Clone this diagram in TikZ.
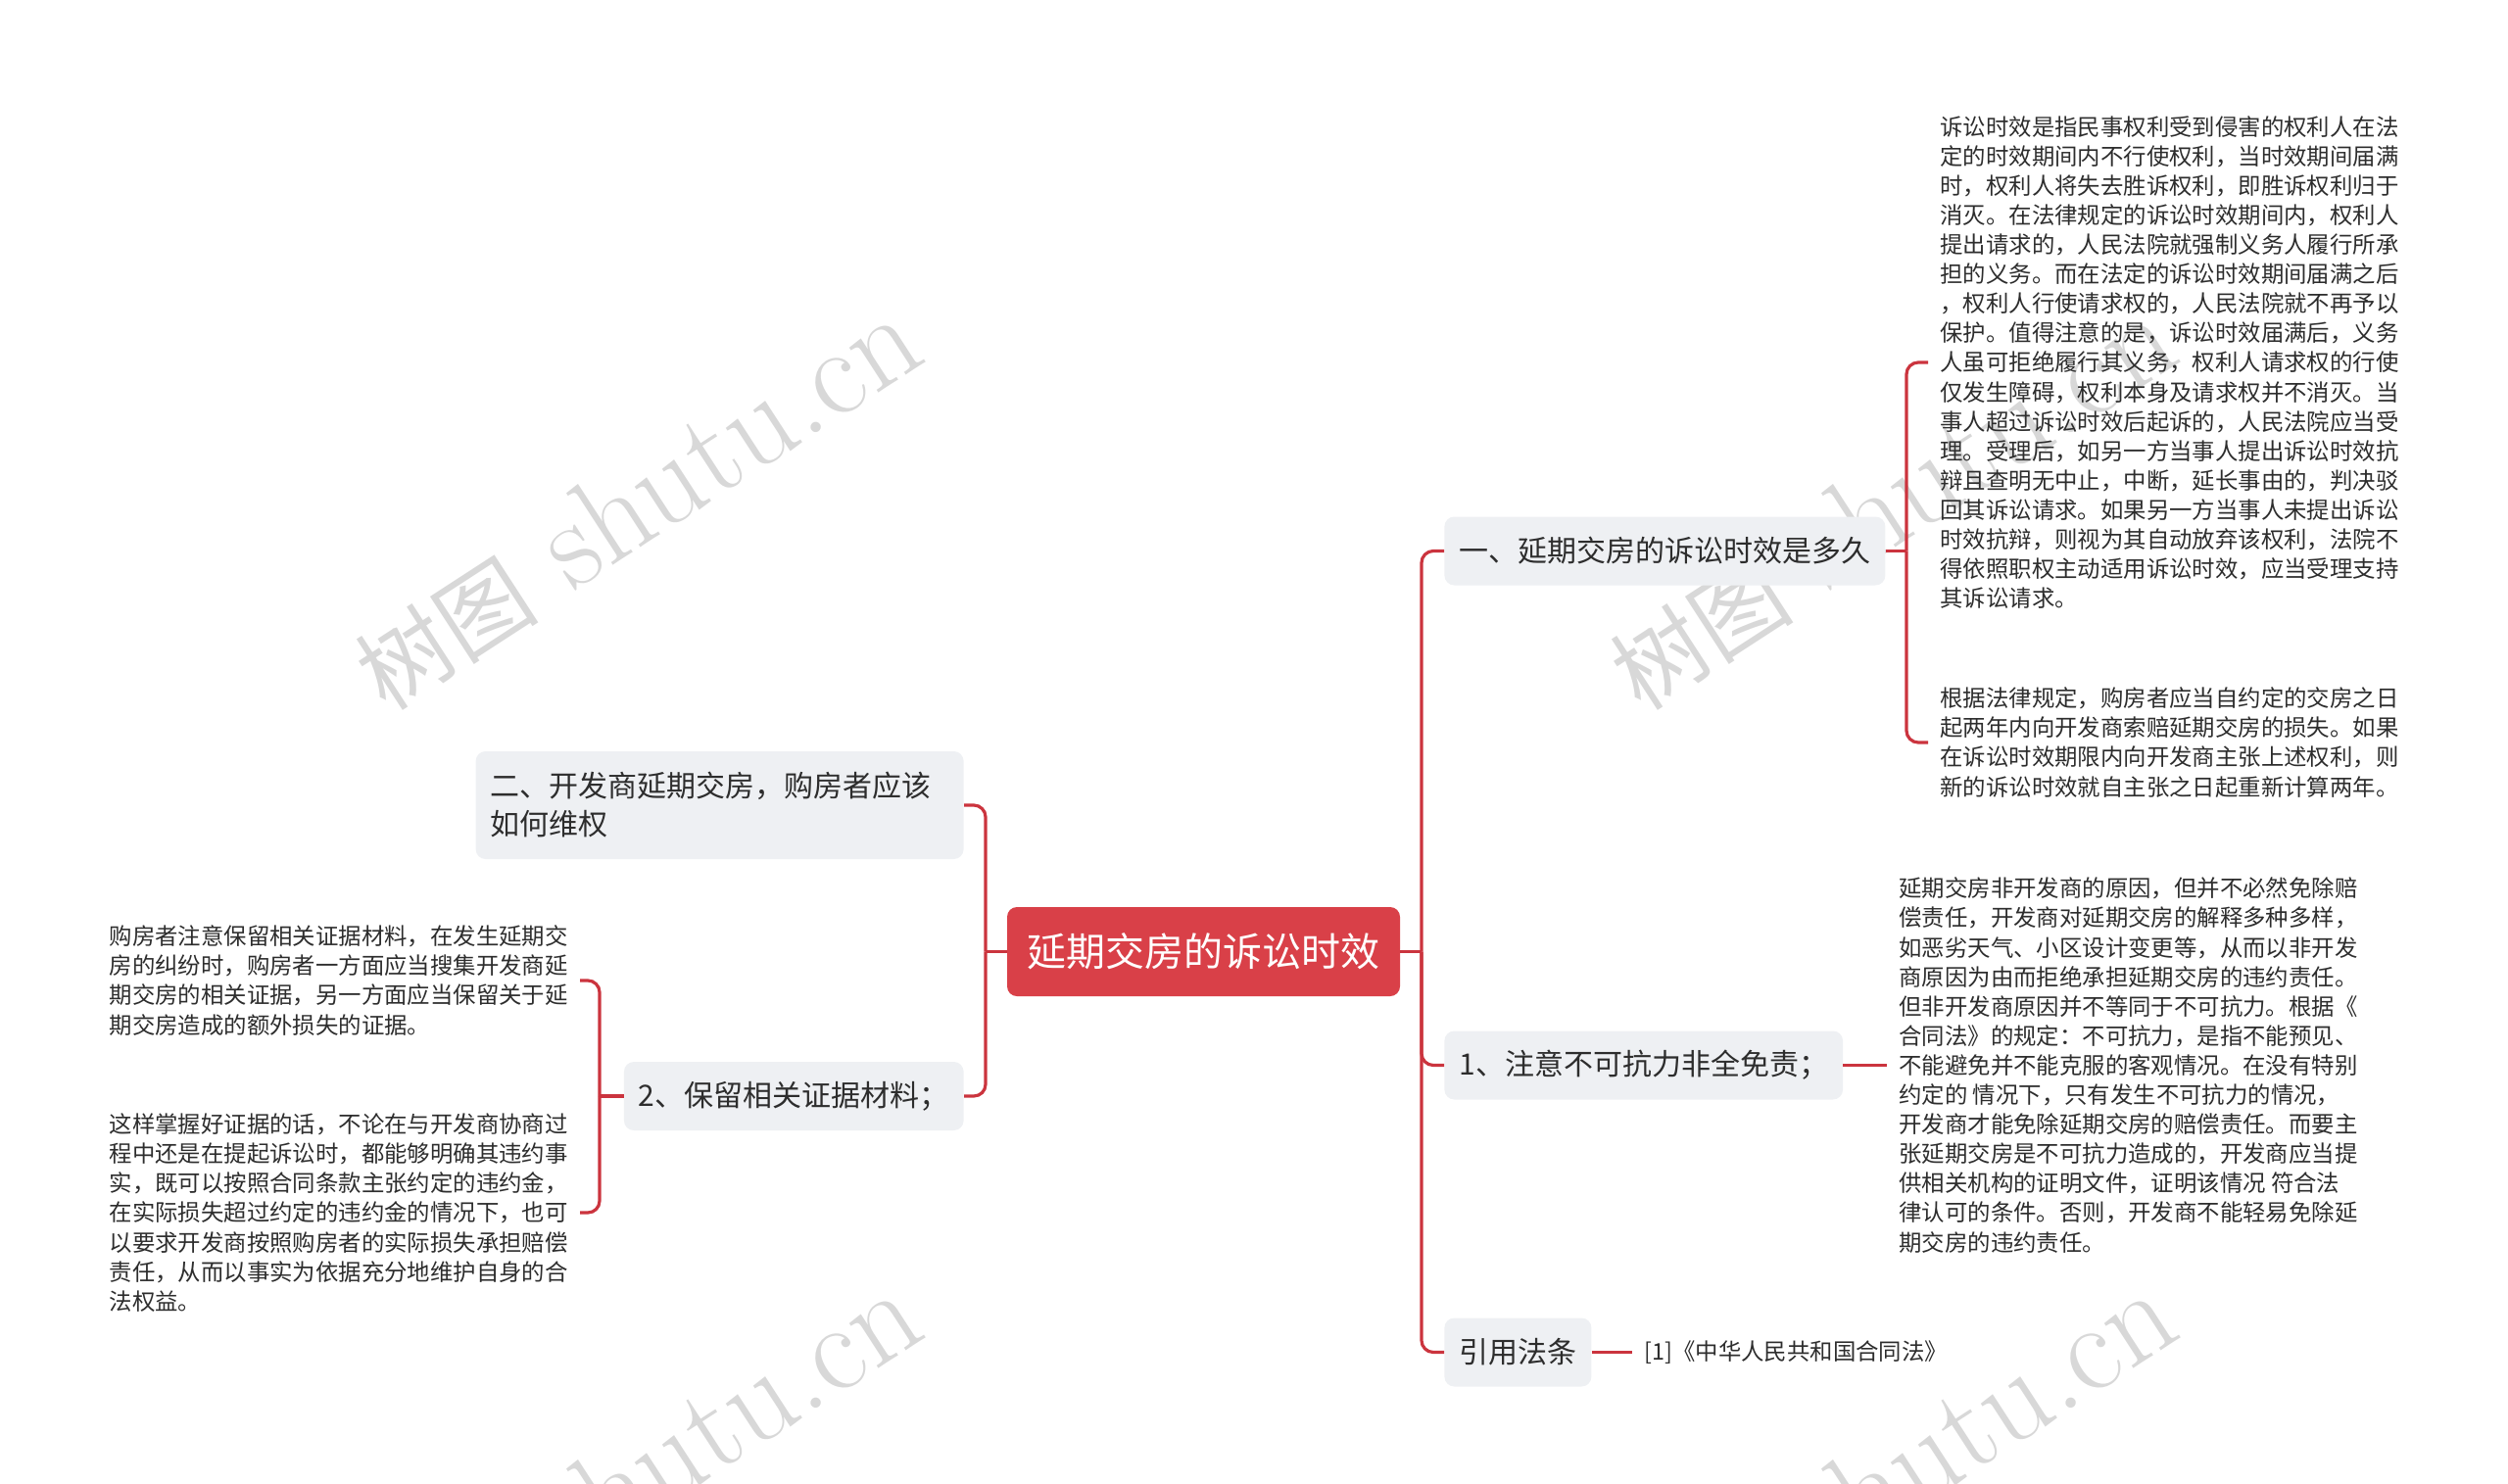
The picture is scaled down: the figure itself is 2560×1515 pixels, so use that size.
\documentclass[tikz,border=0pt]{standalone}
\usepackage{fontspec}
\newfontfamily\cjk{Noto Sans CJK SC}
\usepackage{xcolor}
\definecolor{TopicRed}{RGB}{217,64,72}
\definecolor{LinkRed}{RGB}{203,52,62}
\definecolor{BoxGray}{RGB}{238,240,243}
\definecolor{InkGray}{RGB}{45,45,45}
\definecolor{MarkGray}{RGB}{216,216,216}

\tikzset{
  rootbox/.style={fill=TopicRed, rounded corners=5pt, text=white,
    font=\cjk\fontsize{20}{24}\selectfont,
    minimum width=200.5pt, minimum height=45.5pt},
  topicbox/.style={fill=BoxGray, rounded corners=5pt, text=InkGray,
    font=\cjk\fontsize{15}{19.5}\selectfont,
    inner xsep=7.5pt, minimum height=35pt, align=left},
  leaftext/.style={text=InkGray, font=\cjk\fontsize{11.7}{15.05}\selectfont,
    inner xsep=6pt, inner ysep=0pt, align=left},
  branchline/.style={draw=LinkRed, line width=1.6pt, rounded corners=6pt},
  wmark/.style={text=MarkGray, rotate=33, font=\fontsize{64}{66}\selectfont}
}

\begin{document}
\begin{tikzpicture}[x=0.5pt, y=-0.5pt]
  \useasboundingbox (0,0) rectangle (2560,1515);

  % watermarks
  \begin{scope}
    \clip (0,0) rectangle (2560,1515);
    \foreach \wx in {649,1930}
      \foreach \wy in {514,1510}
        \node[wmark] at (\wx,\wy) {{\cjk\fontsize{47}{50}\selectfont 树图} shutu.cn};
  \end{scope}

  % central topic
  \node[rootbox] (root) at (1228.5,971.5) {延期交房的诉讼时效};

  % right topics
  \node[topicbox, anchor=west] (t1) at (1474,562.5) {一、延期交房的诉讼时效是多久};
  \node[topicbox, anchor=west] (t2) at (1474,1087.5) {1、注意不可抗力非全免责；};
  \node[topicbox, anchor=west] (t3) at (1474,1380.5) {引用法条};

  % left topics
  \node[topicbox, anchor=east, text width=234pt, minimum height=55pt] (t4) at (984,822)
    {二、开发商延期交房，购房者应该\\如何维权};
  \node[topicbox, anchor=east] (t5) at (984,1119) {2、保留相关证据材料；};

  % leaves of t1
  \node[leaftext, anchor=west] (l1) at (1968,370) {%
    诉讼时效是指民事权利受到侵害的权利人在法\\
    定的时效期间内不行使权利，当时效期间届满\\
    时，权利人将失去胜诉权利，即胜诉权利归于\\
    消灭。在法律规定的诉讼时效期间内，权利人\\
    提出请求的，人民法院就强制义务人履行所承\\
    担的义务。而在法定的诉讼时效期间届满之后\\
    ，权利人行使请求权的，人民法院就不再予以\\
    保护。值得注意的是，诉讼时效届满后，义务\\
    人虽可拒绝履行其义务，权利人请求权的行使\\
    仅发生障碍，权利本身及请求权并不消灭。当\\
    事人超过诉讼时效后起诉的，人民法院应当受\\
    理。受理后，如另一方当事人提出诉讼时效抗\\
    辩且查明无中止，中断，延长事由的，判决驳\\
    回其诉讼请求。如果另一方当事人未提出诉讼\\
    时效抗辩，则视为其自动放弃该权利，法院不\\
    得依照职权主动适用诉讼时效，应当受理支持\\
    其诉讼请求。};
  \node[leaftext, anchor=west] (l2) at (1968,758) {%
    根据法律规定，购房者应当自约定的交房之日\\
    起两年内向开发商索赔延期交房的损失。如果\\
    在诉讼时效期限内向开发商主张上述权利，则\\
    新的诉讼时效就自主张之日起重新计算两年。};

  % leaf of t2
  \node[leaftext, anchor=west] (l3) at (1926,1087.5) {%
    延期交房非开发商的原因，但并不必然免除赔\\
    偿责任，开发商对延期交房的解释多种多样，\\
    如恶劣天气、小区设计变更等，从而以非开发\\
    商原因为由而拒绝承担延期交房的违约责任。\\
    但非开发商原因并不等同于不可抗力。根据《\\
    合同法》的规定：不可抗力，是指不能预见、\\
    不能避免并不能克服的客观情况。在没有特别\\
    约定的 情况下，只有发生不可抗力的情况，\\
    开发商才能免除延期交房的赔偿责任。而要主\\
    张延期交房是不可抗力造成的，开发商应当提\\
    供相关机构的证明文件，证明该情况 符合法\\
    律认可的条件。否则，开发商不能轻易免除延\\
    期交房的违约责任。};

  % leaf of t3
  \node[leaftext, anchor=west] (ref) at (1666,1380.5) {[1]《中华人民共和国合同法》};

  % leaves of t5
  \node[leaftext, anchor=east] (l5) at (592,1001) {%
    购房者注意保留相关证据材料，在发生延期交\\
    房的纠纷时，购房者一方面应当搜集开发商延\\
    期交房的相关证据，另一方面应当保留关于延\\
    期交房造成的额外损失的证据。};
  \node[leaftext, anchor=east] (l6) at (592,1238) {%
    这样掌握好证据的话，不论在与开发商协商过\\
    程中还是在提起诉讼时，都能够明确其违约事\\
    实，既可以按照合同条款主张约定的违约金，\\
    在实际损失超过约定的违约金的情况下，也可\\
    以要求开发商按照购房者的实际损失承担赔偿\\
    责任，从而以事实为依据充分地维护自身的合\\
    法权益。};

  % forks
  \coordinate (rtrunk) at (1451,971.5);
  \coordinate (ltrunk) at (1006,971.5);
  \coordinate (t1fork) at (1946,562.5);
  \coordinate (t5fork) at (612,1119);

  % connectors
  \draw[branchline] (root.east) -- (rtrunk);
  \draw[branchline] (rtrunk) |- (t1.west);
  \draw[branchline] (rtrunk) |- (t2.west);
  \draw[branchline] (rtrunk) |- (t3.west);
  \draw[branchline] (root.west) -- (ltrunk);
  \draw[branchline] (ltrunk) |- (t4.east);
  \draw[branchline] (ltrunk) |- (t5.east);
  \draw[branchline] (t1.east) -- (t1fork);
  \draw[branchline] (t1fork) |- (l1.west);
  \draw[branchline] (t1fork) |- (l2.west);
  \draw[branchline] (t2.east) -- (l3.west);
  \draw[branchline] (t3.east) -- (ref.west);
  \draw[branchline] (t5.west) -- (t5fork);
  \draw[branchline] (t5fork) |- (l5.east);
  \draw[branchline] (t5fork) |- (l6.east);
\end{tikzpicture}
\end{document}
